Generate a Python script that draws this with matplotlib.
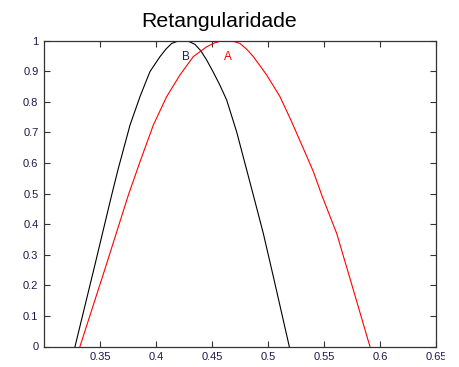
import matplotlib
matplotlib.use("Agg")
import matplotlib.pyplot as plt
from matplotlib.patches import Rectangle

plt.rcParams['font.family'] = ['Liberation Sans', 'DejaVu Sans']

# curve B (black)
xb = [0.3277, 0.3450, 0.3604, 0.3664, 0.3768, 0.3857, 0.3946, 0.4036, 0.4090,
      0.4140, 0.4190, 0.4244, 0.4296, 0.4348, 0.4400, 0.4452, 0.4510, 0.4570,
      0.4631, 0.4720, 0.4869, 0.4958, 0.5048, 0.5190]
yb = [0.0, 0.26, 0.495, 0.583, 0.724, 0.817, 0.899, 0.948, 0.973,
      0.991, 0.998, 1.0, 0.997, 0.988, 0.967, 0.937, 0.898, 0.855,
      0.806, 0.702, 0.495, 0.370, 0.228, 0.0]

# curve A (red)
xa = [0.3321, 0.3550, 0.3753, 0.3857, 0.3976, 0.4095, 0.4214, 0.4333, 0.4452,
      0.4518, 0.4570, 0.4616, 0.4700, 0.4750, 0.4810, 0.4869, 0.4988, 0.5107,
      0.5211, 0.5315, 0.5405, 0.5480, 0.5613, 0.5762, 0.5910]
ya = [0.0, 0.26, 0.495, 0.604, 0.724, 0.817, 0.888, 0.948, 0.980,
      0.992, 0.998, 1.0, 0.997, 0.991, 0.972, 0.948, 0.888, 0.817,
      0.735, 0.648, 0.572, 0.495, 0.370, 0.185, 0.0]

xticks = [0.35, 0.4, 0.45, 0.5, 0.55, 0.6, 0.65]
xlabels = ['0.35', '0.4', '0.45', '0.5', '0.55', '0.6', '0.65']
yticks = [0, 0.1, 0.2, 0.3, 0.4, 0.5, 0.6, 0.7, 0.8, 0.9, 1]
ylabels = ['0', '0.1', '0.2', '0.3', '0.4', '0.5', '0.6', '0.7', '0.8', '0.9', '1']

fig = plt.figure(figsize=(4.59, 3.67), dpi=100)
ax = fig.add_axes([44 / 459, 1 - 346.5 / 367, 392 / 459, 305.8 / 367])

ax.plot(xb, yb, color='black', lw=0.8)
ax.plot(xa, ya, color='red', lw=0.8)

ax.text(0.4268, 0.947, 'B', color='#202050', fontsize=8.5, ha='center', va='center')
ax.text(0.464, 0.947, 'A', color='red', fontsize=8.5, ha='center', va='center')

ax.set_xlim(0.30, 0.65)
ax.set_ylim(0, 1)
ax.set_xticks(xticks)
ax.set_xticklabels(xlabels)
ax.set_yticks(yticks)
ax.set_yticklabels(ylabels)
ax.tick_params(direction='in', length=4, width=0.8, top=True, right=True,
               labelsize=8, labelcolor='#1a1a4a', color='#333333', pad=4)
for s in ax.spines.values():
    s.set_color('#333333')
    s.set_linewidth(0.9)

fig.text(219 / 459, 1 - 27 / 367, 'Retangularidade', fontsize=15.3,
         ha='center', va='baseline')

# trim the right edge of the figure
fig.patches.append(Rectangle((445 / 459, 0), 14 / 459, 1, transform=fig.transFigure,
                             color='white', zorder=10))

fig.savefig('out.png', dpi=100)
